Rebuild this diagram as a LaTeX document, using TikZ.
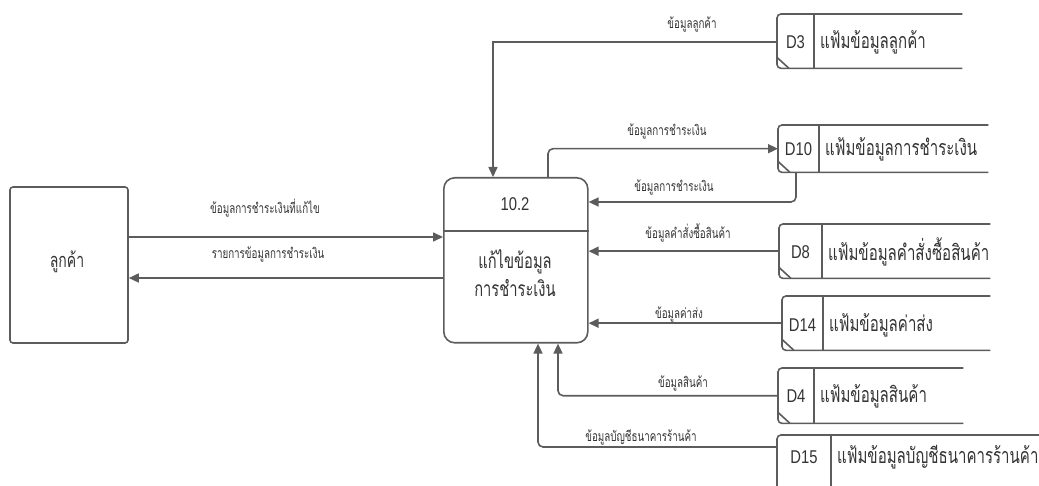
\documentclass[tikz,border=0pt]{standalone}
\usepackage{fontspec}
\usetikzlibrary{arrows.meta,calc}
\newfontfamily\thaifont[Script=Thai,FakeStretch=0.7]{Loma}
\newfontfamily\latinfont[FakeStretch=0.8]{Liberation Sans}
\definecolor{ln}{HTML}{5C5C5C}
\definecolor{tx}{HTML}{333333}
\tikzset{
  dline/.style={draw=ln, line width=1.6pt},
  flow/.style={dline, -{Triangle[length=10pt,width=9pt]}},
  lbl/.style={text=tx, inner sep=0pt, font=\thaifont\fontsize{14}{16}\selectfont},
  storetxt/.style={text=tx, inner sep=0pt, font=\thaifont\fontsize{21.5}{24}\selectfont},
  idtxt/.style={text=tx, inner sep=0pt, font=\latinfont\fontsize{18.5}{20}\selectfont},
  bigtxt/.style={text=tx, inner sep=0pt, font=\thaifont\fontsize{21}{28}\selectfont, align=center},
  custtxt/.style={text=tx, inner sep=0pt, font=\thaifont\fontsize{20}{24}\selectfont},
}
% name, x, y, w, h, divider offset, id, text, text offset from top
\newcommand\dstore[9]{%
  \node[inner sep=0pt, minimum width=#4pt, minimum height=#5pt, anchor=north west] (#1) at (#2,#3) {};
  \draw[dline, rounded corners=4pt] (#1.north east) -- (#1.north west) -- (#1.south west) -- (#1.south east);
  \draw[dline] ([xshift=#6pt]#1.north west) -- ([xshift=#6pt]#1.south west);
  \draw[dline] ([yshift=11pt]#1.south west) -- ([xshift=12pt]#1.south west);
  \node[idtxt] (#1id) at ($([yshift=-#9pt]#1.north west)+(#6/2,0)$) {#7};
  \node[storetxt, anchor=west] (#1txt) at ($([yshift=-#9pt]#1.north west)+(#6+6,0)$) {#8};
}
\begin{document}
\begin{tikzpicture}[x=1pt,y=-1pt]
\path[use as bounding box] (0,0) rectangle (1039,486);
\clip (0,0) rectangle (1039,486);

% external entity
\node[dline, rounded corners=3pt, minimum width=118pt, minimum height=156pt, inner sep=0pt] (cust) at (69,265) {};
\node[custtxt] (custname) at (67,262) {ลูกค้า};

% process
\node[dline, rounded corners=11pt, minimum width=144pt, minimum height=165pt, inner sep=0pt, anchor=north west] (proc) at (443,177) {};
\draw[dline] ([yshift=-54pt]proc.north west) -- ([yshift=-54pt]proc.north east);
\node[idtxt] (procid) at (515,204) {10.2};
\node[bigtxt] (proctxt) at (515,273) {แก้ไขข้อมูล\\การชำระเงิน};

% data stores
\dstore{d3}{777}{14}{185}{54}{37}{D3}{แฟ้มข้อมูลลูกค้า}{28}
\dstore{d10}{778}{125}{210}{47}{41}{D10}{แฟ้มข้อมูลการชำระเงิน}{24}
\dstore{d8}{779}{224}{211}{54}{43}{D8}{แฟ้มข้อมูลคำสั่งซื้อสินค้า}{28}
\dstore{d14}{782}{296}{208}{54}{41}{D14}{แฟ้มข้อมูลค่าส่ง}{29}
\dstore{d4}{778}{368}{185}{55}{36}{D4}{แฟ้มข้อมูลสินค้า}{28}
\dstore{d15}{777}{435}{262}{70}{54}{D15}{แฟ้มข้อมูลบัญชีธนาคารร้านค้า}{22}

% flows
\draw[flow] ([yshift=28pt]cust.east) -- ([yshift=28pt]cust.east -| proc.west);
\draw[flow] ([yshift=-13pt]cust.east -| proc.west) -- ([yshift=-13pt]cust.east);
\draw[flow] ([yshift=-1pt]d3.west) -| ([xshift=50pt]proc.north west);
\draw[flow, rounded corners=5pt] ([xshift=105pt]proc.north west) |- (d10.west);
\draw[flow, rounded corners=5pt] ([xshift=18pt]d10.south west) |- ($(proc.north east)+(0,25)$);
\draw[flow] (d8.west) -- (d8.west -| proc.east);
\draw[flow] (d14.west) -- (d14.west -| proc.east);
\draw[flow, rounded corners=5pt] (d4.west) -| ([xshift=115pt]proc.south west);
\draw[flow, rounded corners=5pt] ([yshift=-12pt]d15.north west) -| ([xshift=95pt]proc.south west);

% flow labels
\node[lbl] (l1) at (265,208) {ข้อมูลการชำระเงินที่แก้ไข};
\node[lbl] (l2) at (268,254) {รายการข้อมูลการชำระเงิน};
\node[lbl] (l3) at (692,24) {ข้อมูลลูกค้า};
\node[lbl] (l4) at (667,131) {ข้อมูลการชำระเงิน};
\node[lbl] (l5) at (674,187) {ข้อมูลการชำระเงิน};
\node[lbl] (l6) at (688,233) {ข้อมูลคำสั่งซื้อสินค้า};
\node[lbl] (l7) at (679,314) {ข้อมูลค่าส่ง};
\node[lbl] (l8) at (683,383) {ข้อมูลสินค้า};
\node[lbl] (l9) at (641,437) {ข้อมูลบัญชีธนาคารร้านค้า};
\end{tikzpicture}
\end{document}
